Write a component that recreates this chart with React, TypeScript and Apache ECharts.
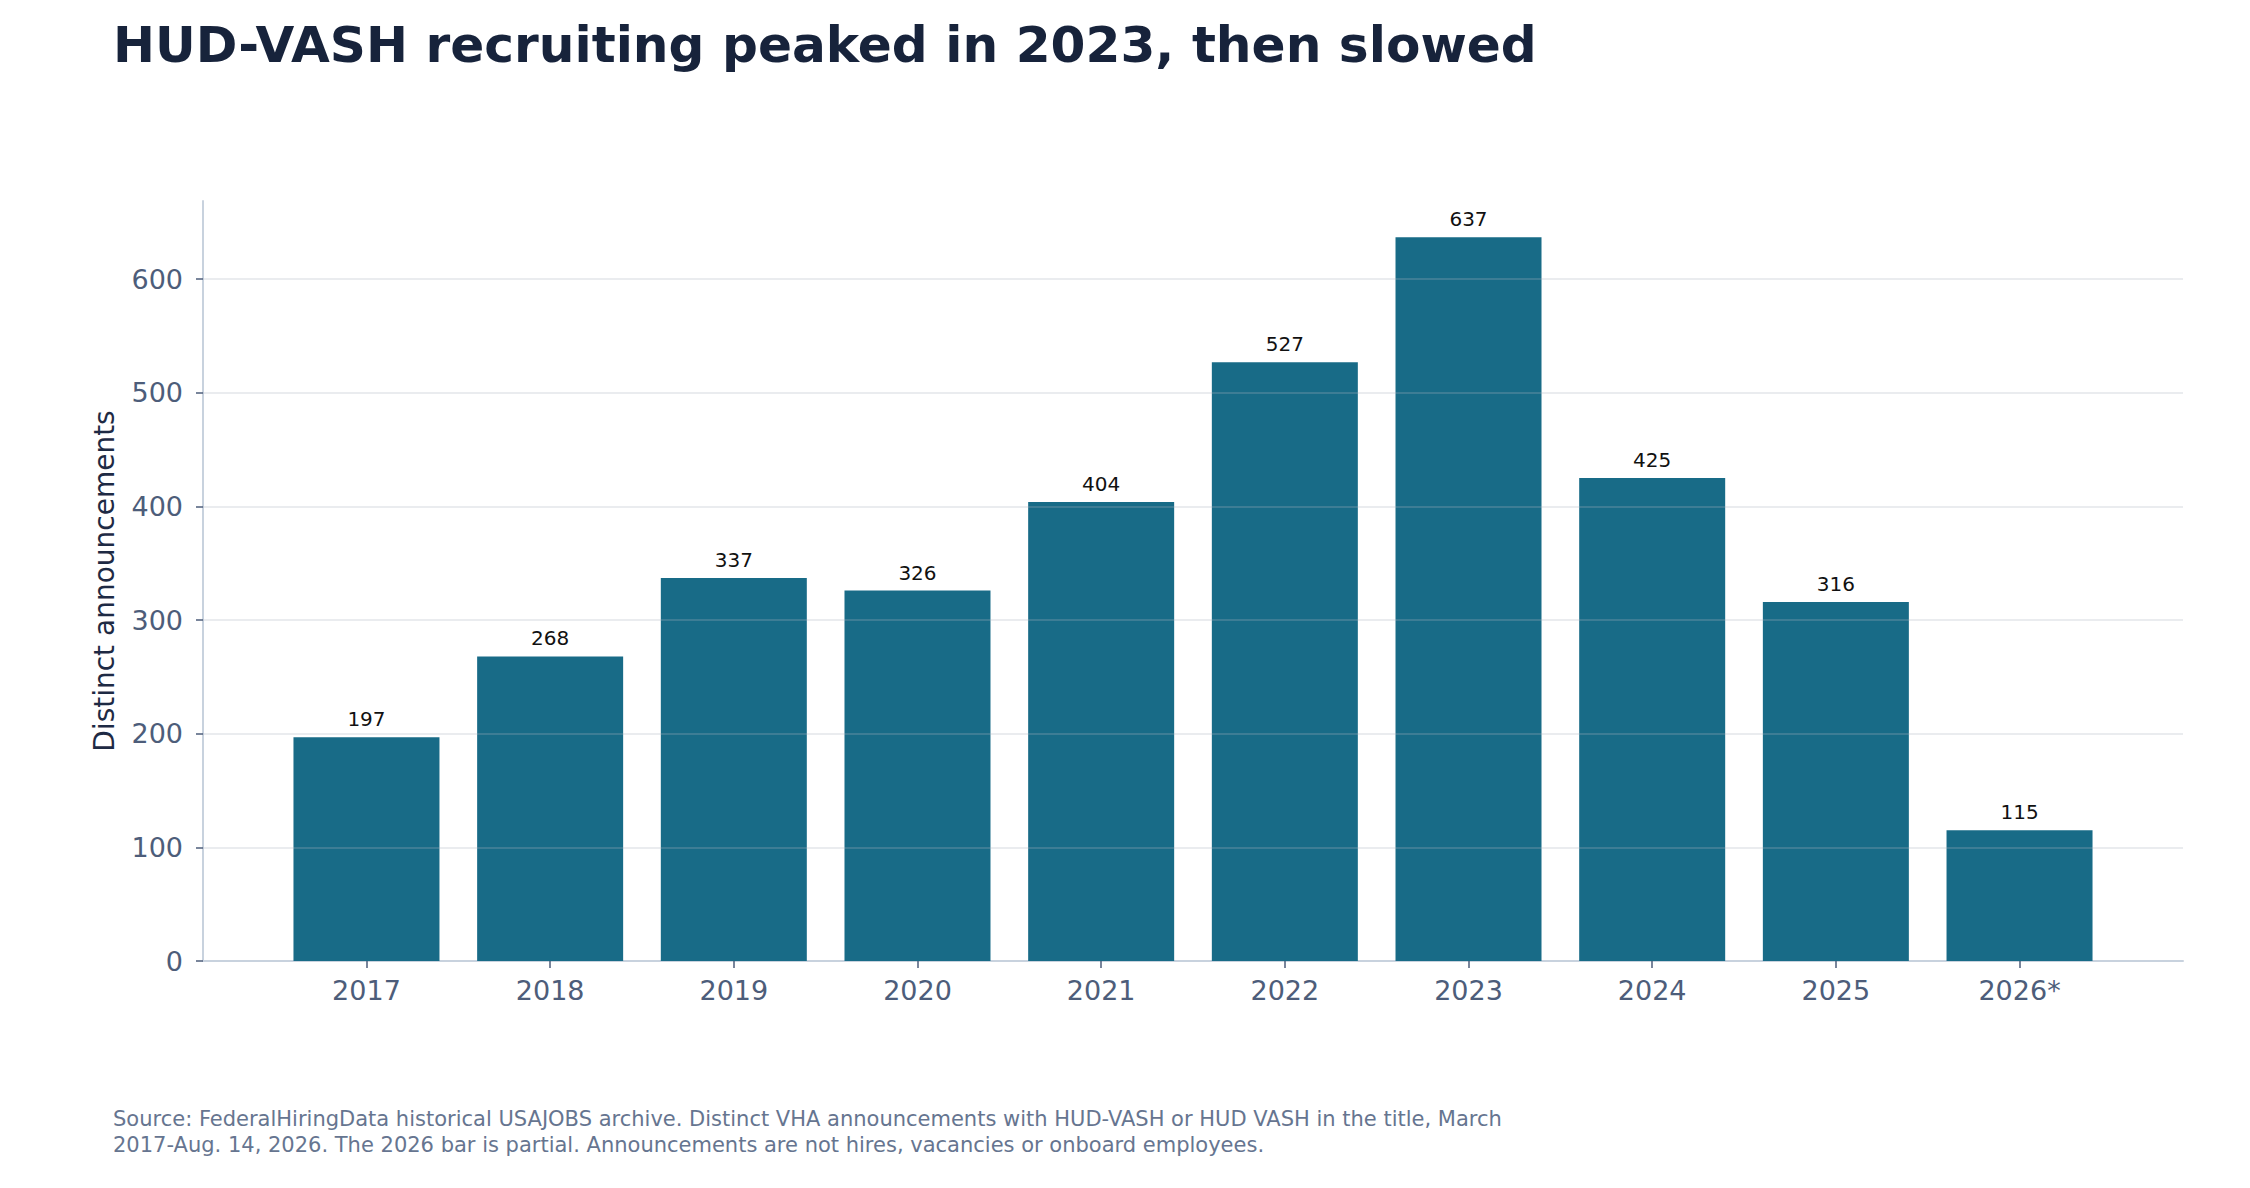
import React, { useEffect, useRef } from "react";
import * as echarts from "echarts";

const categories = ["2017", "2018", "2019", "2020", "2021", "2022", "2023", "2024", "2025", "2026*"];
const announcements = [197, 268, 337, 326, 404, 527, 637, 425, 316, 115];
const yTicks = [0, 100, 200, 300, 400, 500, 600];

const titleText = "HUD-VASH recruiting peaked in 2023, then slowed";
const yAxisTitle = "Distinct announcements";
const footnoteLines = [
  "Source: FederalHiringData historical USAJOBS archive. Distinct VHA announcements with HUD-VASH or HUD VASH in the title, March",
  "2017-Aug. 14, 2026. The 2026 bar is partial. Announcements are not hires, vacancies or onboard employees.",
];

const FONT = "DejaVu Sans";

export default function App() {
  const ref = useRef<HTMLDivElement>(null);

  useEffect(() => {
    document.body.style.margin = "0";
    if (!ref.current) return;
    const chart = echarts.init(ref.current, undefined, { renderer: "svg" });
    const n = categories.length;
    const maxV = Math.max(...announcements) * 1.05;
    const xMin = -0.4 - 0.05 * (n - 1 + 0.8);
    const xMax = n - 1 + 0.4 + 0.05 * (n - 1 + 0.8);
    const idx = categories.map((_, i) => i);

    chart.setOption({
      animation: false,
      backgroundColor: "#ffffff",
      grid: { left: 203, right: 67, top: 201, bottom: 227, containLabel: false },
      xAxis: {
        type: "value",
        min: xMin,
        max: xMax,
        splitLine: { show: false },
        axisLine: { show: true, onZero: false, lineStyle: { color: "#c8d2de", width: 2 } },
        axisTick: { show: true, customValues: idx, length: 7, lineStyle: { color: "#4d5d7a", width: 1.5 } },
        axisLabel: {
          customValues: idx,
          formatter: (v: number) => categories[Math.round(v)] ?? "",
          fontFamily: FONT,
          fontSize: 27,
          color: "#4d5d7a",
          margin: 16,
        },
      },
      yAxis: {
        type: "value",
        min: 0,
        max: maxV,
        splitLine: { show: false },
        axisLine: { show: true, onZero: false, lineStyle: { color: "#c8d2de", width: 2 } },
        axisTick: { show: true, customValues: yTicks, length: 7, lineStyle: { color: "#4d5d7a", width: 1.5 } },
        axisLabel: {
          customValues: yTicks,
          fontFamily: FONT,
          fontSize: 27,
          color: "#4d5d7a",
          margin: 20,
        },
      },
      series: [
        {
          type: "bar",
          data: announcements.map((v, i) => [i, v]),
          barWidth: 146,
          itemStyle: { color: "#186b87" },
          label: {
            show: true,
            position: "top",
            distance: 8,
            fontFamily: FONT,
            fontSize: 20,
            color: "#111111",
            formatter: (p: any) => String(p.value[1]),
          },
          markLine: {
            silent: true,
            symbol: "none",
            label: { show: false },
            lineStyle: { type: "solid", color: "rgba(172,180,192,0.25)", width: 2 },
            data: yTicks.filter((t) => t > 0).map((t) => ({ yAxis: t })),
            z: 5,
          },
        },
      ],
      graphic: [
        {
          type: "text",
          x: 113,
          y: 44,
          style: {
            text: titleText,
            fontFamily: FONT,
            fontWeight: "bold",
            fontSize: 50.2,
            fill: "#17233b",
            align: "left",
            verticalAlign: "middle",
          },
        },
        {
          type: "text",
          x: 104,
          y: 581,
          rotation: Math.PI / 2,
          style: {
            text: yAxisTitle,
            fontFamily: FONT,
            fontSize: 28,
            fill: "#1e2a44",
            align: "center",
            verticalAlign: "middle",
          },
        },
        ...footnoteLines.map((line, i) => ({
          type: "text",
          x: 113,
          y: 1118.5 + i * 26,
          style: {
            text: line,
            fontFamily: FONT,
            fontSize: 21,
            fill: "#667590",
            align: "left",
            verticalAlign: "middle",
          },
        })),
      ],
    });

    return () => chart.dispose();
  }, []);

  return <div ref={ref} style={{ width: 2250, height: 1188 }} />;
}
